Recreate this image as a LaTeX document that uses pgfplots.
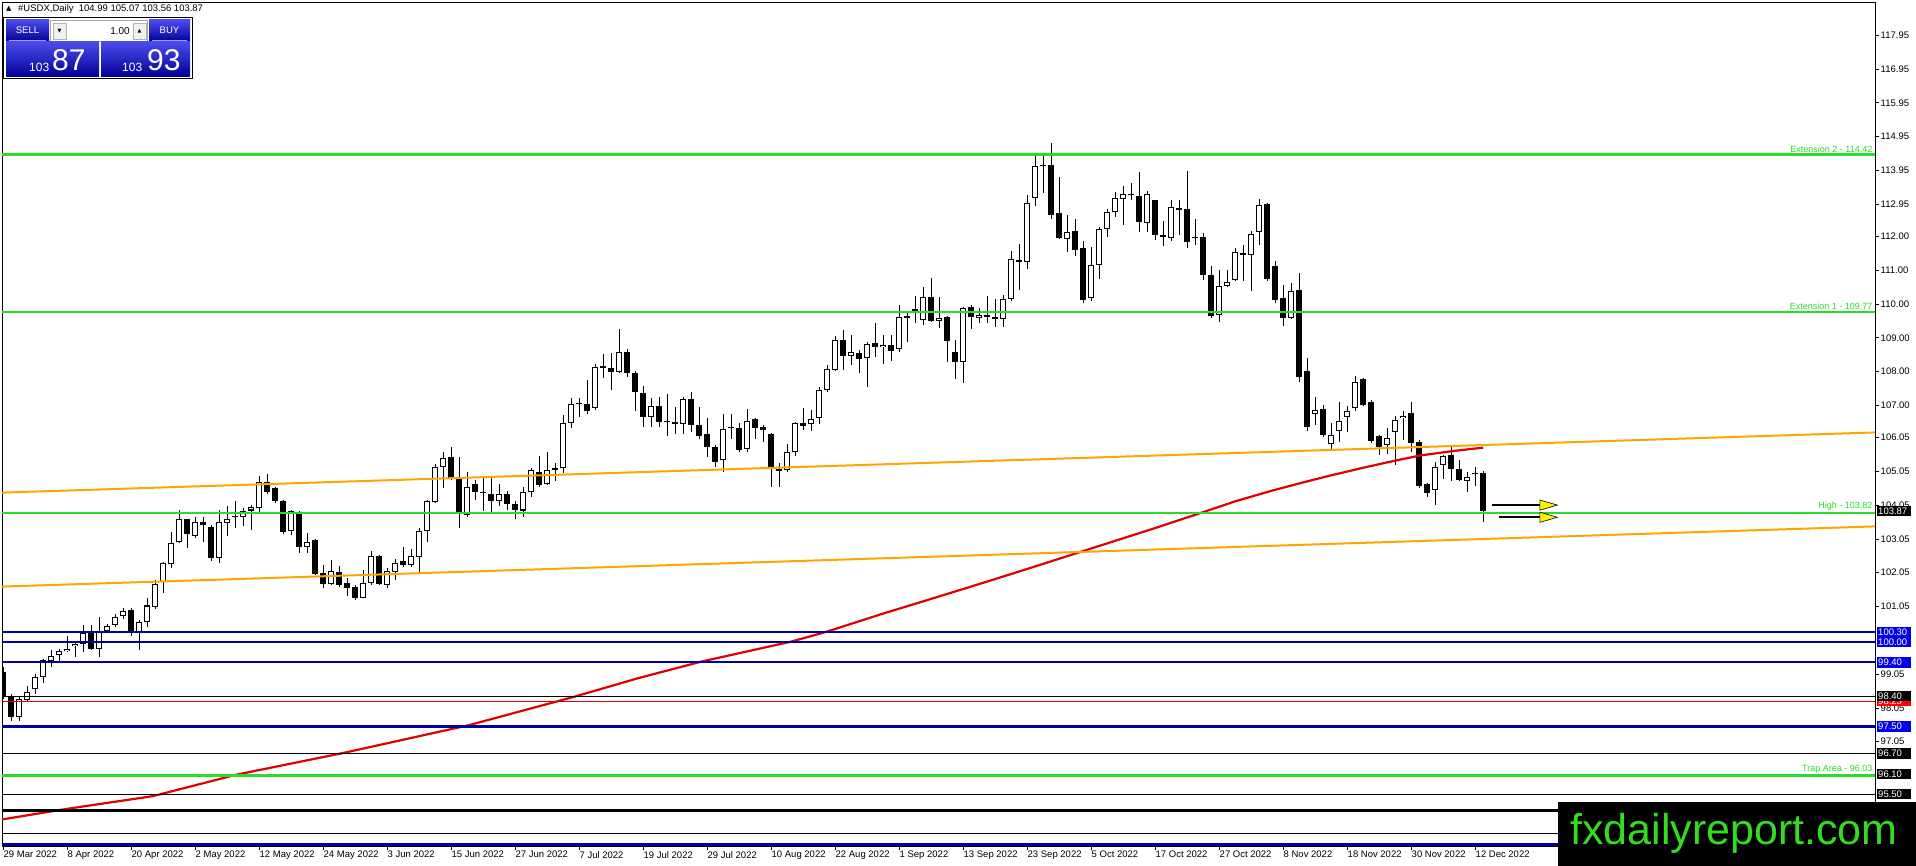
\documentclass[border=0pt]{standalone}
\usepackage{pgfplots}
\pgfplotsset{compat=1.18}
\usepackage{pgfplotstable}
\usepackage{fontspec}
\setmainfont{Liberation Sans}
\newfontfamily\dejavu{DejaVu Sans}
\usetikzlibrary{arrows.meta}

\definecolor{lgreen}{RGB}{40,220,40}
\definecolor{mtorange}{RGB}{255,165,0}
\definecolor{navy}{RGB}{0,0,160}
\definecolor{boxblue}{RGB}{0,0,235}
\definecolor{mared}{RGB}{225,0,0}
\definecolor{fxgreen}{RGB}{50,220,30}
\definecolor{btop}{RGB}{75,75,235}
\definecolor{bbot}{RGB}{0,0,150}
\newcommand\tfont{\fontsize{9.5bp}{11bp}\selectfont}

\pgfplotstableread{
i O H L C
0 99.12 99.25 98.30 98.38
1 98.38 98.45 97.65 97.79
2 97.79 98.38 97.65 98.31
3 98.29 98.71 98.24 98.53
4 98.60 99.06 98.46 98.96
5 98.96 99.50 98.80 99.47
6 99.45 99.75 99.27 99.60
7 99.61 99.80 99.37 99.73
8 99.72 100.18 99.70 99.80
9 99.87 100.01 99.57 99.94
10 99.94 100.50 99.70 100.26
11 100.29 100.50 99.77 99.80
12 99.80 100.75 99.55 100.29
13 100.33 100.53 100.31 100.46
14 100.49 100.83 100.44 100.75
15 100.78 101.02 100.67 100.93
16 100.95 101.00 100.19 100.31
17 100.31 100.65 99.77 100.58
18 100.58 101.29 100.44 101.08
19 101.03 101.84 100.98 101.72
20 101.77 102.38 101.46 102.33
21 102.31 103.25 102.18 102.92
22 102.95 103.91 102.92 103.63
23 103.63 103.65 102.77 103.19
24 103.15 103.71 103.07 103.56
25 103.56 103.71 102.97 103.45
26 103.41 103.46 102.41 102.48
27 102.48 103.91 102.33 103.54
28 103.51 104.01 103.15 103.63
29 103.70 104.17 103.37 103.71
30 103.69 103.95 103.44 103.89
31 103.89 104.04 103.32 103.99
32 103.96 104.92 103.86 104.73
33 104.73 104.97 104.38 104.43
34 104.55 104.60 104.10 104.18
35 104.17 104.20 103.19 103.24
36 103.27 103.91 103.17 103.89
37 103.86 103.89 102.62 102.82
38 102.82 103.22 102.62 102.97
39 103.02 103.04 101.98 102.01
40 102.03 102.28 101.61 101.72
41 101.72 102.43 101.69 102.10
42 102.06 102.26 101.64 101.69
43 101.74 101.89 101.36 101.61
44 101.64 101.69 101.24 101.29
45 101.31 102.13 101.29 101.74
46 101.74 102.69 101.69 102.55
47 102.53 102.58 101.69 101.72
48 101.69 102.18 101.61 102.11
49 102.08 102.45 101.82 102.35
50 102.39 102.80 102.23 102.28
51 102.28 102.74 102.23 102.55
52 102.51 103.37 102.08 103.29
53 103.27 104.20 102.97 104.17
54 104.15 105.27 104.10 105.17
55 105.17 105.61 104.55 105.44
56 105.47 105.76 104.79 104.84
57 104.84 105.47 103.37 103.79
58 103.76 105.04 103.71 104.60
59 104.67 104.79 104.20 104.43
60 104.45 104.84 103.89 104.40
61 104.37 104.87 103.86 104.17
62 104.17 104.67 104.03 104.38
63 104.37 104.48 103.90 104.07
64 104.07 104.17 103.63 103.91
65 103.89 104.58 103.71 104.45
66 104.45 105.14 104.30 105.09
67 105.04 105.50 104.60 104.65
68 104.66 105.61 104.65 105.09
69 105.08 105.29 104.77 105.14
70 105.14 106.73 104.99 106.47
71 106.47 107.21 106.32 107.03
72 107.03 107.21 106.67 107.04
73 107.03 107.75 106.76 106.84
74 106.91 108.22 106.86 108.14
75 108.18 108.52 107.80 108.12
76 108.10 108.54 107.46 108.00
77 108.00 109.25 107.95 108.59
78 108.59 108.66 107.85 107.95
79 107.95 108.02 106.84 107.41
80 107.38 107.58 106.35 106.67
81 106.65 107.21 106.35 106.99
82 106.99 107.26 106.37 106.52
83 106.55 107.33 106.09 106.50
84 106.50 106.96 106.15 106.44
85 106.44 107.24 106.15 107.19
86 107.19 107.39 106.22 106.42
87 106.42 106.96 106.02 106.10
88 106.15 106.64 105.48 105.78
89 105.78 105.83 105.19 105.34
90 105.37 106.76 105.04 106.30
91 106.37 106.76 106.02 106.32
92 106.34 106.47 105.63 105.68
93 105.71 106.89 105.63 106.54
94 106.60 106.64 106.02 106.32
95 106.37 106.42 105.93 106.27
96 106.15 106.17 104.60 105.19
97 105.12 105.29 104.60 105.07
98 105.09 105.86 105.04 105.63
99 105.61 106.52 105.51 106.47
100 106.47 106.92 106.27 106.40
101 106.44 106.86 106.25 106.59
102 106.62 107.53 106.45 107.47
103 107.45 108.20 107.41 108.07
104 108.05 109.05 108.03 108.93
105 108.93 109.23 108.05 108.47
106 108.47 109.08 108.20 108.59
107 108.56 108.64 107.95 108.37
108 108.39 108.89 107.54 108.82
109 108.86 109.43 108.44 108.74
110 108.72 109.08 108.22 108.79
111 108.79 109.08 108.31 108.61
112 108.67 109.97 108.59 109.61
113 109.65 109.72 108.89 109.58
114 109.80 110.24 109.45 109.86
115 109.53 110.51 109.38 110.20
116 110.20 110.76 109.47 109.50
117 109.51 110.20 109.28 109.60
118 109.61 109.63 108.29 108.91
119 108.57 108.93 107.77 108.27
120 108.27 109.92 107.65 109.87
121 109.90 109.98 109.26 109.61
122 109.58 109.87 109.43 109.67
123 109.67 110.24 109.43 109.61
124 109.61 110.14 109.31 109.55
125 109.55 110.27 109.32 110.15
126 110.15 111.56 110.08 111.33
127 111.29 111.78 110.40 111.24
128 111.24 113.21 111.03 112.99
129 113.14 114.37 112.89 114.09
130 114.12 114.45 113.28 114.07
131 114.12 114.75 112.51 112.64
132 112.69 113.76 111.93 111.95
133 111.93 112.64 111.53 112.12
134 112.17 112.51 111.43 111.59
135 111.66 111.85 110.03 110.13
136 110.17 111.70 110.08 111.16
137 111.14 112.28 110.74 112.23
138 112.22 112.82 111.98 112.72
139 112.72 113.30 112.57 113.14
140 113.11 113.48 112.35 113.25
141 113.26 113.58 113.09 113.21
142 113.20 113.90 112.12 112.42
143 112.40 113.33 112.12 113.26
144 113.07 113.09 111.90 112.05
145 112.05 112.45 111.72 111.98
146 111.95 113.09 111.85 112.87
147 112.84 113.09 112.05 112.77
148 112.81 113.93 111.66 111.82
149 111.95 112.51 111.75 111.94
150 111.97 112.10 110.72 110.85
151 110.87 111.11 109.58 109.63
152 109.66 111.01 109.48 110.54
153 110.54 111.01 110.50 110.65
154 110.70 111.66 110.67 111.54
155 111.51 111.75 110.67 111.46
156 111.46 112.15 110.37 112.08
157 112.13 113.11 111.75 112.94
158 112.97 112.99 110.67 110.75
159 111.11 111.26 110.03 110.13
160 110.17 110.57 109.34 109.58
161 109.58 110.62 109.55 110.37
162 110.42 110.93 107.68 107.84
163 108.03 108.40 106.23 106.37
164 106.74 107.26 106.42 106.85
165 106.89 107.02 106.06 106.11
166 105.86 106.47 105.70 106.13
167 106.23 107.11 105.93 106.54
168 106.65 106.99 106.21 106.84
169 106.92 107.88 106.84 107.69
170 107.79 107.81 106.97 107.02
171 107.11 107.16 105.88 105.96
172 106.10 106.13 105.52 105.78
173 105.83 106.34 105.56 106.03
174 106.21 106.70 105.24 106.57
175 106.62 106.84 105.98 106.69
176 106.77 107.11 105.63 105.88
177 105.93 105.98 104.55 104.62
178 104.67 104.70 104.28 104.40
179 104.50 105.34 104.05 105.19
180 105.24 105.53 104.81 105.49
181 105.53 105.78 104.77 105.11
182 105.11 105.39 104.75 104.79
183 104.76 105.04 104.45 104.89
184 104.97 105.19 104.62 104.99
185 104.99 105.07 103.56 103.87
}\cdata

\pgfplotstableread{
i p
-0.125 94.75
7.9 95.06
18.75 95.44
29.1 96.07
42.6 96.72
58.25 97.54
71.4 98.38
79.4 98.93
87.3 99.42
98.5 100.01
102.9 100.30
110 100.84
117.6 101.39
124 101.86
130 102.31
137 102.84
144 103.37
150 103.84
154 104.16
158.5 104.47
162.5 104.72
166 104.93
170.1 105.16
174.1 105.37
177.2 105.52
181.25 105.65
185 105.75
}\madata

\begin{document}
\begin{tikzpicture}[x=1bp,y=1bp]
\useasboundingbox (0,0) rectangle (1916,866);
\fill[white] (0,0) rectangle (1916,866);
\begin{axis}[
  at={(2bp,20bp)}, anchor=south west,
  scale only axis, width=1873bp, height=844bp,
  xmin=-0.125, xmax=234, ymin=93.9645, ymax=118.935,
  clip mode=individual,
  axis line style={black, line width=0.9bp},
  xtick={0,8,...,184},
  xticklabels={29 Mar 2022,8 Apr 2022,20 Apr 2022,2 May 2022,12 May 2022,24 May 2022,3 Jun 2022,15 Jun 2022,27 Jun 2022,7 Jul 2022,19 Jul 2022,29 Jul 2022,10 Aug 2022,22 Aug 2022,1 Sep 2022,13 Sep 2022,23 Sep 2022,5 Oct 2022,17 Oct 2022,27 Oct 2022,8 Nov 2022,18 Nov 2022,30 Nov 2022,12 Dec 2022},
  ytick={117.95,116.95,115.95,114.95,113.95,112.95,112,111,110,109,108,107,106.05,105.05,104.05,103.05,102.05,101.05,99.05,98.05,97.05},
  yticklabels={117.95,116.95,115.95,114.95,113.95,112.95,112.00,111.00,110.00,109.00,108.00,107.00,106.05,105.05,104.05,103.05,102.05,101.05,99.05,98.05,97.05},
  xtick pos=bottom, ytick pos=right, yticklabel pos=right,
  tick align=outside, major tick length=4bp,
  tick style={black, line width=0.8bp},
  xticklabel style={anchor=north west, font=\tfont, inner sep=0pt, xshift=0.5bp, yshift=-1bp},
  yticklabel style={anchor=west, font=\tfont, inner sep=0pt, xshift=1.5bp},
]
% wicks
\addplot[draw=none, mark=none, forget plot, error bars/.cd, y dir=both, y explicit, error mark=none,
  error bar style={draw=black, line width=1bp, solid}]
  table[x=i, y=L, y error plus expr={\thisrow{H}-\thisrow{L}}, y error minus expr={0}] {\cdata};
% bodies (black)
\addplot[draw=none, mark=none, forget plot, error bars/.cd, y dir=both, y explicit, error mark=none,
  error bar style={draw=black, line width=5.4bp, solid, line cap=butt}]
  table[x=i, y expr={min(\thisrow{O},\thisrow{C})}, y error plus expr={max(abs(\thisrow{C}-\thisrow{O}),0.035)}, y error minus expr={0}] {\cdata};
% bodies (white interior of rising candles)
\addplot[draw=none, mark=none, forget plot, error bars/.cd, y dir=both, y explicit, error mark=none,
  error bar style={draw=white, line width=3.4bp, solid, line cap=butt}]
  table[x=i, y expr={\thisrow{O}+0.03}, y error plus expr={max(\thisrow{C}-\thisrow{O}-0.06,0)}, y error minus expr={0}] {\cdata};

% moving average
\addplot[mared, line width=2.2bp, no markers] table[x=i, y=p] {\madata};

% orange channel
\addplot[mtorange, line width=2bp, no markers] coordinates {(-0.125,104.419) (234,106.20)};
\addplot[mtorange, line width=2bp, no markers] coordinates {(-0.125,101.639) (234,103.42)};

% green levels
\addplot[lgreen, line width=2.4bp, no markers] coordinates {(-1,114.42) (235,114.42)};
\addplot[lgreen, line width=2.4bp, no markers] coordinates {(-1,109.77) (235,109.77)};
\addplot[lgreen, line width=2.4bp, no markers] coordinates {(-1,103.82) (235,103.82)};
\addplot[lgreen, line width=2.4bp, no markers] coordinates {(-1,96.05) (235,96.05)};
% blue levels
\addplot[navy, line width=2.4bp, no markers] coordinates {(-1,100.30) (235,100.30)};
\addplot[navy, line width=2.4bp, no markers] coordinates {(-1,100.00) (235,100.00)};
\addplot[navy, line width=2.4bp, no markers] coordinates {(-1,99.40) (235,99.40)};
\addplot[navy, line width=2.4bp, no markers] coordinates {(-1,97.50) (235,97.50)};
\addplot[navy, line width=2.8bp, no markers] coordinates {(-1,94.02) (235,94.02)};
% black and red levels
\addplot[black, line width=1bp, no markers] coordinates {(-1,98.40) (235,98.40)};
\addplot[mared, line width=1bp, no markers] coordinates {(-1,98.25) (235,98.25)};
\addplot[black, line width=1bp, no markers] coordinates {(-1,96.70) (235,96.70)};
\addplot[black, line width=1bp, no markers] coordinates {(-1,95.50) (235,95.50)};
\addplot[black, line width=2.4bp, no markers] coordinates {(-1,95.01) (235,95.01)};
\addplot[black, line width=1bp, no markers] coordinates {(-1,94.32) (235,94.32)};

% level labels
\node[anchor=south east, text=lgreen, font=\fontsize{9bp}{10bp}\selectfont, inner sep=0.5bp] at (axis cs:233.75,114.46) {Extension 2 - 114.42};
\node[anchor=south east, text=lgreen, font=\fontsize{9bp}{10bp}\selectfont, inner sep=0.5bp] at (axis cs:233.75,109.81) {Extension 1 - 109.77};
\node[anchor=south east, text=lgreen, font=\fontsize{9bp}{10bp}\selectfont, inner sep=0.5bp] at (axis cs:233.75,103.86) {High - 103.82};
\node[anchor=south east, text=lgreen, font=\fontsize{9bp}{10bp}\selectfont, inner sep=0.5bp] at (axis cs:233.75,96.09) {Trap Area - 96.03};

% arrows
\draw[black, line width=2bp] (axis cs:186.1,104.05) -- (axis cs:192.2,104.05);
\draw[black, line width=2bp] (axis cs:187.0,103.69) -- (axis cs:192.2,103.69);
\filldraw[fill=yellow, draw=black, line width=0.6bp] (axis cs:192.1,104.20) -- (axis cs:194.3,104.05) -- (axis cs:192.1,103.90) -- cycle;
\filldraw[fill=yellow, draw=black, line width=0.6bp] (axis cs:192.1,103.84) -- (axis cs:194.3,103.69) -- (axis cs:192.1,103.54) -- cycle;

% anchors for price boxes
\coordinate (q10387) at (axis cs:234,103.87);
\coordinate (q10030) at (axis cs:234,100.30);
\coordinate (q10000) at (axis cs:234,100.00);
\coordinate (q9940) at (axis cs:234,99.40);
\coordinate (q9840) at (axis cs:234,98.40);
\coordinate (q9825) at (axis cs:234,98.25);
\coordinate (q9750) at (axis cs:234,97.50);
\coordinate (q9670) at (axis cs:234,96.70);
\coordinate (q9610) at (axis cs:234,96.10);
\coordinate (q9550) at (axis cs:234,95.50);
\end{axis}

\tikzset{pbox/.style={anchor=west, xshift=1.5bp, inner xsep=1.5bp, inner ysep=0pt, minimum height=10.5bp, text=white, font=\tfont, text width=31bp, align=left}}
\node[pbox, fill=black] at (q10387) {103.87};
\node[pbox, fill=boxblue] at (q10030) {100.30};
\node[pbox, fill=boxblue] at (q10000) {100.00};
\node[pbox, fill=boxblue] at (q9940) {99.40};
\node[pbox, fill=red] at (q9825) {98.25};
\node[pbox, fill=black] at (q9840) {98.40};
\node[pbox, fill=boxblue] at (q9750) {97.50};
\node[pbox, fill=black] at (q9670) {96.70};
\node[pbox, fill=black] at (q9610) {96.10};
\node[pbox, fill=black] at (q9550) {95.50};

% watermark box
\fill[black] (1558,0) rectangle (1916,63.5);
\node[anchor=base west, inner sep=0pt, text=fxgreen, font=\fontsize{43bp}{46bp}\selectfont] at (1570,21) {fxdailyreport.com};

% header
\node[anchor=base west, inner sep=0pt, font={\dejavu\fontsize{7bp}{8bp}\selectfont}] at (6,855) {▲};
\node[anchor=base west, inner sep=0pt, font=\tfont] at (18,854) {\#USDX,Daily\ \ 104.99 105.07 103.56 103.87};

% trade panel
\draw[black, line width=0.8bp, fill=white] (3,788) rectangle (192,849);
\shade[top color=btop, bottom color=bbot] (6,824) rectangle (49,846);
\shade[top color=btop, bottom color=bbot] (149,824) rectangle (190,846);
\draw[white!60!blue, line width=0.6bp] (9,826) -- (46,826);
\draw[white!60!blue, line width=0.6bp] (152,826) -- (187,826);
\node[text=white, font=\tfont] at (27.5,836) {SELL};
\node[text=white, font=\tfont] at (169.5,836) {BUY};
\draw[gray!70, line width=0.6bp, fill=white] (50.5,824.5) rectangle (147.5,845.5);
\filldraw[fill=gray!12, draw=gray!60, line width=0.5bp] (53,827) rectangle (66,843);
\filldraw[fill=gray!12, draw=gray!60, line width=0.5bp] (133,827) rectangle (146,843);
\node[font={\dejavu\fontsize{5bp}{6bp}\selectfont}] at (59.5,835) {▼};
\node[font={\dejavu\fontsize{5bp}{6bp}\selectfont}] at (139.5,835) {▲};
\node[anchor=base east, inner sep=0pt, font=\fontsize{10bp}{11bp}\selectfont] at (130,831) {1.00};
\shade[top color=btop, bottom color=bbot] (6,789) rectangle (99,824);
\shade[top color=btop, bottom color=bbot] (101,789) rectangle (190,824);
\node[anchor=base west, inner sep=0pt, text=white, font=\fontsize{12bp}{12bp}\selectfont] at (29,794) {103};
\node[anchor=base west, inner sep=0pt, text=white, font=\fontsize{30bp}{30bp}\selectfont] at (52,795) {87};
\node[anchor=base west, inner sep=0pt, text=white, font=\fontsize{12bp}{12bp}\selectfont] at (122,794) {103};
\node[anchor=base west, inner sep=0pt, text=white, font=\fontsize{30bp}{30bp}\selectfont] at (147,795) {93};
\end{tikzpicture}
\end{document}
